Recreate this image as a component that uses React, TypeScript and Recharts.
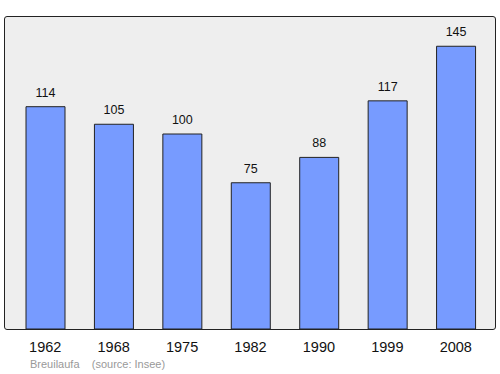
import React from 'react';
import { BarChart, Bar, XAxis, YAxis, CartesianGrid, LabelList } from 'recharts';

const years = ['1962', '1968', '1975', '1982', '1990', '1999', '2008'];
const population = [114, 105, 100, 75, 88, 117, 145];

const data = years.map((y, i) => ({ year: y, pop: population[i] }));

export default function App() {
  return (
    <div style={{ position: 'absolute', left: 0, top: 0, width: 500, height: 374, fontFamily: 'Liberation Sans, Arial, sans-serif' }}>
      <BarChart width={500} height={374} data={data} margin={{ top: 17, right: 4, bottom: 0, left: 5 }}>
        <CartesianGrid horizontal={false} vertical={false} fill="#eeeeee" fillOpacity={1} />
        <XAxis
          dataKey="year"
          padding={{ left: 6, right: 6 }}
          tickLine={false}
          axisLine={false}
          tick={{ fill: '#111', fontSize: 14.5 }}
          tickMargin={7}
          height={45}
        />
        <YAxis domain={[0, 160]} hide />
        <Bar dataKey="pop" fill="#779bff" stroke="#222" strokeWidth={1} barSize={39} isAnimationActive={false}>
          <LabelList dataKey="pop" position="top" offset={10} fill="#111" fontSize={12.5} />
        </Bar>
      </BarChart>
      <div
        style={{
          position: 'absolute',
          left: 4.25,
          top: 16.25,
          width: 491.5,
          height: 313.5,
          boxSizing: 'border-box',
          border: '1.5px solid #222',
          borderRadius: 3,
          pointerEvents: 'none',
        }}
      />
      <div style={{ position: 'absolute', left: 30, top: 358, fontSize: 11, color: '#999', whiteSpace: 'pre' }}>
        {'Breuilaufa    (source: Insee)'}
      </div>
    </div>
  );
}
